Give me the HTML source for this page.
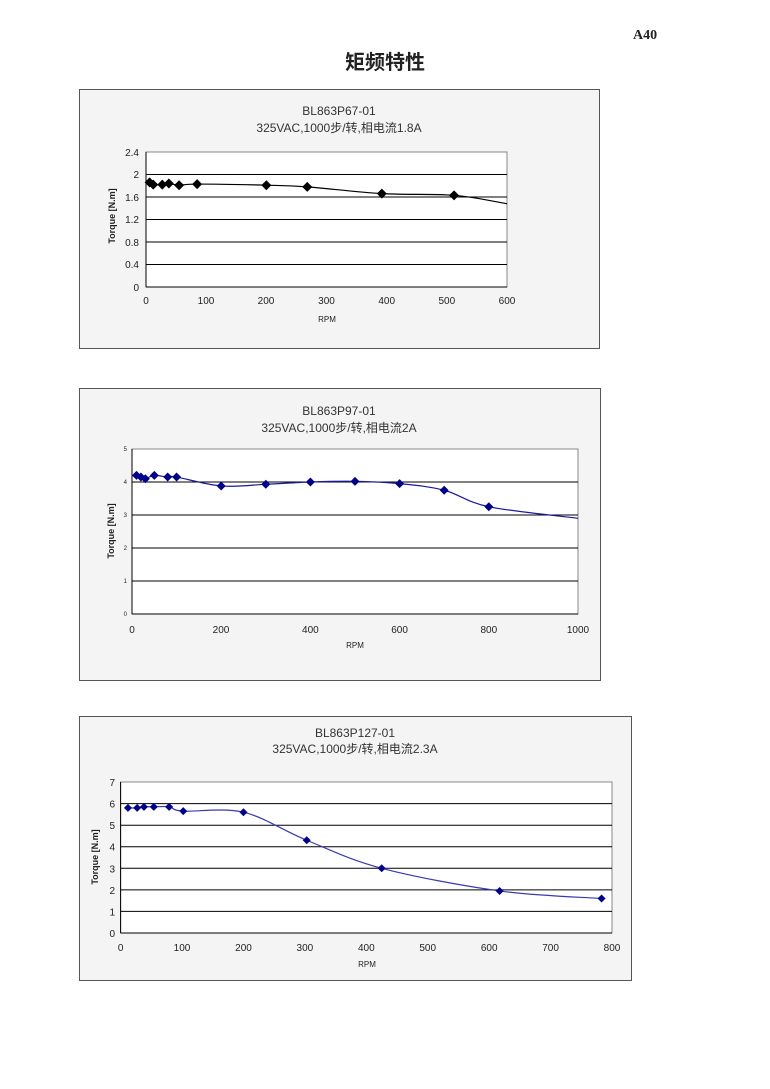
<!DOCTYPE html>
<html><head><meta charset="utf-8">
<style>
html,body{margin:0;padding:0;background:#fff;}
svg{display:block;}
text{font-family:"Liberation Sans","Noto Sans CJK SC",sans-serif;fill:#222;}
.ct{fill:#333;}
</style></head>
<body>
<svg id="s" width="770" height="1089" viewBox="0 0 770 1089" xmlns="http://www.w3.org/2000/svg">
<text x="633" y="39" style="font-family:'Liberation Serif',serif;font-weight:bold;font-size:14px" fill="#000">A40</text>
<text x="385" y="69" text-anchor="middle" style="font-family:'Noto Sans CJK SC',sans-serif;font-weight:bold;font-size:20px" fill="#000">矩频特性</text>

<!-- Chart 1 -->
<rect x="79.5" y="89.5" width="520" height="259" fill="#f4f4f4" stroke="#555" stroke-width="1"/>
<rect x="146" y="152" width="361" height="135" fill="#fff" stroke="#888"/>
<g stroke="#000" stroke-width="1">
<line x1="146" x2="507" y1="174.5" y2="174.5"/><line x1="146" x2="507" y1="197" y2="197"/>
<line x1="146" x2="507" y1="219.5" y2="219.5"/><line x1="146" x2="507" y1="242" y2="242"/>
<line x1="146" x2="507" y1="264.5" y2="264.5"/><line x1="146" x2="507" y1="287" y2="287"/>
<line x1="146" x2="146" y1="152" y2="287"/>
</g>
<text class="ct" x="339" y="115" text-anchor="middle" font-size="12">BL863P67-01</text>
<text class="ct" x="339" y="132" text-anchor="middle" font-size="12">325VAC,1000步/转,相电流1.8A</text>
<g font-size="10" text-anchor="end">
<text x="139" y="156">2.4</text><text x="139" y="178">2</text><text x="139" y="201">1.6</text>
<text x="139" y="223">1.2</text><text x="139" y="246">0.8</text><text x="139" y="268">0.4</text><text x="139" y="291">0</text>
</g>
<g font-size="10" text-anchor="middle">
<text x="146" y="304">0</text><text x="206" y="304">100</text><text x="266" y="304">200</text><text x="326.5" y="304">300</text>
<text x="386.7" y="304">400</text><text x="446.8" y="304">500</text><text x="507" y="304">600</text>
</g>
<text x="327" y="322" text-anchor="middle" font-size="8">RPM</text>
<text transform="translate(115,216) rotate(-90)" text-anchor="middle" font-size="9" font-weight="bold">Torque  [N.m]</text>

<!-- Chart 2 -->
<rect x="79.5" y="388.5" width="521" height="292" fill="#f4f4f4" stroke="#555"/>
<rect x="132" y="449" width="446" height="165" fill="#fff" stroke="#888"/>
<g stroke="#000" stroke-width="1">
<line x1="132" x2="578" y1="482" y2="482"/><line x1="132" x2="578" y1="515" y2="515"/>
<line x1="132" x2="578" y1="548" y2="548"/><line x1="132" x2="578" y1="581" y2="581"/>
<line x1="132" x2="578" y1="614" y2="614"/><line x1="132" x2="132" y1="449" y2="614"/>
</g>
<text class="ct" x="339" y="415" text-anchor="middle" font-size="12">BL863P97-01</text>
<text class="ct" x="339" y="432" text-anchor="middle" font-size="12">325VAC,1000步/转,相电流2A</text>
<g font-size="6" text-anchor="end">
<text x="127" y="451">5</text><text x="127" y="484">4</text><text x="127" y="517">3</text>
<text x="127" y="550">2</text><text x="127" y="583">1</text><text x="127" y="616">0</text>
</g>
<g font-size="10" text-anchor="middle">
<text x="132" y="633">0</text><text x="221" y="633">200</text><text x="310.4" y="633">400</text>
<text x="399.6" y="633">600</text><text x="488.8" y="633">800</text><text x="578" y="633">1000</text>
</g>
<text x="355" y="648" text-anchor="middle" font-size="8">RPM</text>
<text transform="translate(114,531) rotate(-90)" text-anchor="middle" font-size="9" font-weight="bold">Torque  [N.m]</text>

<!-- Chart 3 -->
<rect x="79.5" y="716.5" width="552" height="264" fill="#f4f4f4" stroke="#555"/>
<rect x="120.6" y="782" width="491.4" height="151" fill="#fff" stroke="#888"/>
<g stroke="#000" stroke-width="1">
<line x1="120.6" x2="612" y1="803.6" y2="803.6"/><line x1="120.6" x2="612" y1="825.2" y2="825.2"/>
<line x1="120.6" x2="612" y1="846.7" y2="846.7"/><line x1="120.6" x2="612" y1="868.3" y2="868.3"/>
<line x1="120.6" x2="612" y1="889.9" y2="889.9"/><line x1="120.6" x2="612" y1="911.4" y2="911.4"/>
<line x1="120.6" x2="612" y1="933" y2="933"/><line x1="120.6" x2="120.6" y1="782" y2="933"/>
</g>
<text class="ct" x="355" y="737" text-anchor="middle" font-size="12">BL863P127-01</text>
<text class="ct" x="355" y="753" text-anchor="middle" font-size="12">325VAC,1000步/转,相电流2.3A</text>
<g font-size="10" text-anchor="end">
<text x="115" y="786">7</text><text x="115" y="807.6">6</text><text x="115" y="829.2">5</text><text x="115" y="850.7">4</text>
<text x="115" y="872.3">3</text><text x="115" y="893.9">2</text><text x="115" y="915.4">1</text><text x="115" y="937">0</text>
</g>
<g font-size="10" text-anchor="middle">
<text x="120.6" y="951">0</text><text x="182" y="951">100</text><text x="243.5" y="951">200</text><text x="304.9" y="951">300</text>
<text x="366.3" y="951">400</text><text x="427.7" y="951">500</text><text x="489.2" y="951">600</text><text x="550.6" y="951">700</text><text x="612" y="951">800</text>
</g>
<text x="367" y="967" text-anchor="middle" font-size="8">RPM</text>
<text transform="translate(98,857) rotate(-90)" text-anchor="middle" font-size="9" font-weight="bold">Torque  [N.m]</text>

<g id="series"></g>
</svg>
<script>
(function(){
var NS="http://www.w3.org/2000/svg",g=document.getElementById("series");
function cr(p){var d="M"+p[0][0]+","+p[0][1];for(var i=0;i<p.length-1;i++){var a=p[i-1]||p[i],b=p[i],c=p[i+1],e=p[i+2]||c;
d+=" C"+(b[0]+(c[0]-a[0])/6)+","+(b[1]+(c[1]-a[1])/6)+" "+(c[0]-(e[0]-b[0])/6)+","+(c[1]-(e[1]-b[1])/6)+" "+c[0]+","+c[1];}return d;}
function draw(data,fx,fy,col,mk,extra,sz){
var p=data.map(function(d){return[fx(d[0]),fy(d[1])]});
var lp=p.slice();if(extra)lp.push([fx(extra[0]),fy(extra[1])]);
var path=document.createElementNS(NS,"path");path.setAttribute("d",cr(lp));path.setAttribute("fill","none");path.setAttribute("stroke",col);path.setAttribute("stroke-width","1.2");g.appendChild(path);
p.forEach(function(q){var m=document.createElementNS(NS,"path");var s=sz;
m.setAttribute("d","M"+q[0]+","+(q[1]-s)+" L"+(q[0]+s)+","+q[1]+" L"+q[0]+","+(q[1]+s)+" L"+(q[0]-s)+","+q[1]+"Z");m.setAttribute("fill",mk);g.appendChild(m);});
}
draw([[6,1.86],[12,1.82],[27,1.82],[38,1.84],[55,1.81],[85,1.83],[200,1.81],[268,1.78],[392,1.66],[512,1.63]],
function(r){return 146+r*361/600},function(t){return 287-t*56.25},"#000","#000",[600,1.48],5);
draw([[10,4.2],[20,4.15],[30,4.1],[50,4.2],[80,4.15],[100,4.15],[200,3.88],[300,3.93],[400,4.0],[500,4.02],[600,3.95],[700,3.75],[800,3.25]],
function(r){return 132+r*0.446},function(t){return 614-t*33},"#1a1a9a","#00008b",[1000,2.9],4.5);
draw([[12,5.8],[27,5.8],[38,5.85],[54,5.85],[79,5.85],[102,5.65],[200,5.6],[303,4.3],[425,3.0],[617,1.95],[783,1.6]],
function(r){return 120.6+r*0.61425},function(t){return 933-t*21.57},"#3a3ab0","#00008b",null,4);
})();
</script>
</body></html>
